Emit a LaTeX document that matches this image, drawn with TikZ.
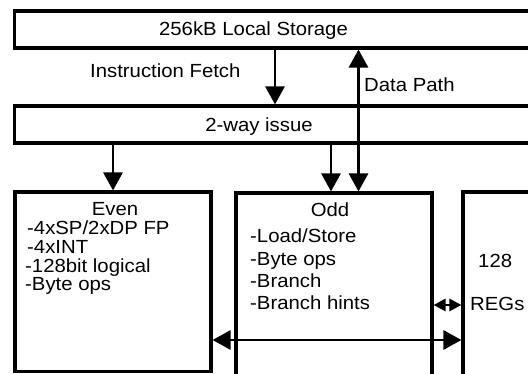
\documentclass[tikz,border=0pt]{standalone}
\usepackage{fontspec}
\setmainfont{Liberation Sans}[FakeStretch=1.07]
\usetikzlibrary{arrows.meta}

\begin{document}
\begin{tikzpicture}[x=1pt, y=-1pt,
  box/.style={draw, line width=3.1pt, inner sep=0pt},
  lbl/.style={inner sep=0pt, font=\fontsize{19}{22}\selectfont},
  conn/.style={line width=2.8pt, -{Triangle[width=19pt, length=18pt]}},
  biconn/.style={line width=2.8pt, {Triangle[width=19pt, length=18pt]}-{Triangle[width=19pt, length=18pt]}},
  smallbi/.style={line width=2.8pt, {Triangle[width=12pt, length=12pt]}-{Triangle[width=12pt, length=12pt]}}]

  \useasboundingbox (0,0) rectangle (528,374);
  \clip (0,0) rectangle (528,374);
  \fill[white] (0,0) rectangle (528,374);

  % storage and issue bars
  \node[box, minimum width=530.5pt, minimum height=37pt] (ls) at (279.75,29.5) {};
  \node[box, minimum width=530.5pt, minimum height=37pt] (issue) at (279.75,124.5) {};

  % pipelines and register file
  \node[box, minimum width=196pt, minimum height=179.5pt] (even) at (113,281.75) {};
  \node[box, minimum width=196pt, minimum height=207pt] (odd) at (334,296.5) {};
  \node[box, minimum width=97pt, minimum height=208pt] (regs) at (511.5,296) {};

  % labels
  \node[lbl, anchor=base] (tls) at (253.5,35.7) {256kB Local Storage};
  \node[lbl, anchor=base west] (tif) at (90,77.7) {Instruction Fetch};
  \node[lbl, anchor=base west] (tdp) at (364,92) {Data Path};
  \node[lbl, anchor=base] (tis) at (259,131.7) {2-way issue};

  \node[lbl, anchor=base] (tev) at (115,216) {Even};
  \node[lbl, anchor=base west] (ev1) at (27,235) {-4xSP/2xDP FP};
  \node[lbl, anchor=base west] (ev2) at (27,254) {-4xINT};
  \node[lbl, anchor=base west] (ev3) at (25,273) {-128bit logical};
  \node[lbl, anchor=base west] (ev4) at (25,291) {-Byte ops};

  \node[lbl, anchor=base] (tod) at (330,217) {Odd};
  \node[lbl, anchor=base west] (od1) at (250,243) {-Load/Store};
  \node[lbl, anchor=base west] (od2) at (250,265.5) {-Byte ops};
  \node[lbl, anchor=base west] (od3) at (250,288) {-Branch};
  \node[lbl, anchor=base west] (od4) at (250,310) {-Branch hints};

  \node[lbl, anchor=base west] (trn) at (478,267.5) {128};
  \node[lbl, anchor=base west] (trg) at (470,310.5) {REGs};

  % connector positions
  \coordinate (xif) at (275,0);
  \coordinate (xdp) at (358.5,0);
  \coordinate (xev) at (113,0);
  \coordinate (xod) at (331,0);
  \coordinate (ybus) at (0,340);
  \coordinate (yreg) at (0,305);

  % connectors
  \draw[conn] (ls.south -| xif) -- (issue.north -| xif);
  \draw[biconn] (odd.north -| xdp) -- (ls.south -| xdp);
  \draw[conn] (issue.south -| xev) -- (even.north -| xev);
  \draw[conn] (issue.south -| xod) -- (odd.north -| xod);
  \draw[biconn] (even.east |- ybus) -- (regs.west |- ybus);
  \draw[smallbi] (odd.east |- yreg) -- (regs.west |- yreg);
\end{tikzpicture}
\end{document}
